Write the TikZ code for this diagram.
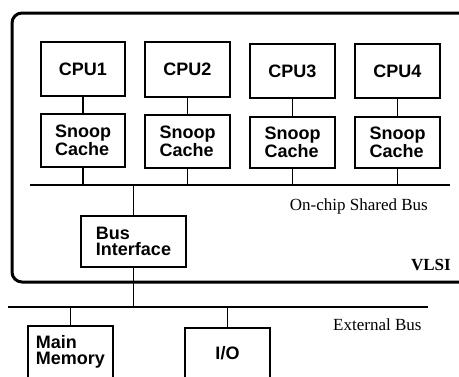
\documentclass[tikz,border=0pt]{standalone}
\usepackage{fontspec}
\setmainfont{Liberation Serif}
\newfontfamily\boxfont{Liberation Sans}
\begin{document}
\begin{tikzpicture}[x=1pt,y=-1pt,
  unitbox/.style={draw=black,line width=1.4pt,inner sep=0pt,
    font=\boxfont\bfseries\fontsize{18}{16.5}\selectfont,align=left},
  wire/.style={line width=1.4pt},
  bus/.style={line width=1.5pt},
  lbl/.style={font=\fontsize{17}{17}\selectfont,inner sep=0pt}]
\useasboundingbox (0,0) rectangle (459,376);
\clip (0,0) rectangle (459,376);
\fill[white] (0,0) rectangle (459,376);
% VLSI chip outline
\draw[line width=3pt,rounded corners=10pt] (12,13) rectangle (475,282);
% CPUs
\node[unitbox,minimum width=84pt,minimum height=54pt] (cpu1) at (83,69) {CPU1};
\node[unitbox,minimum width=85pt,minimum height=55pt] (cpu2) at (187.5,69.5) {CPU2};
\node[unitbox,minimum width=85pt,minimum height=54pt] (cpu3) at (292.5,71) {CPU3};
\node[unitbox,minimum width=85pt,minimum height=54pt] (cpu4) at (397.5,71) {CPU4};
% Snoop caches
\node[unitbox,minimum width=84pt,minimum height=53pt] (sc1) at (83,140.5) {Snoop\\Cache};
\node[unitbox,minimum width=85pt,minimum height=53pt] (sc2) at (187.5,141.5) {Snoop\\Cache};
\node[unitbox,minimum width=85pt,minimum height=51pt] (sc3) at (292.5,142.5) {Snoop\\Cache};
\node[unitbox,minimum width=85pt,minimum height=51pt] (sc4) at (397.5,142.5) {Snoop\\Cache};
% Bus interface
\node[unitbox,minimum width=105pt,minimum height=51pt] (bif) at (133.5,241.5) {Bus\\Interface};
% External units
\node[unitbox,minimum width=85pt,minimum height=52pt] (mem) at (70.5,352) {Main\\Memory};
\node[unitbox,minimum width=85pt,minimum height=50pt] (io) at (227.5,353) {I/O};
% buses
\coordinate (sbL) at (30,185);
\coordinate (sbR) at (450,185);
\coordinate (ebL) at (8,307);
\coordinate (ebR) at (428,307);
\draw[bus] (sbL) -- (sbR);
\draw[bus] (ebL) -- (ebR);
% connectors
\foreach \i in {1,2,3,4}{
  \draw[wire] (cpu\i.south) -- (sc\i.north);
  \draw[wire] (sc\i.south) -- (sc\i.south |- sbL);
}
\draw[wire] (bif.north) -- (bif.north |- sbL);
\draw[wire] (bif.south) -- (bif.south |- ebL);
\draw[wire] (mem.north) -- (mem.north |- ebL);
\draw[wire] (io.north) -- (io.north |- ebL);
% labels
\node[lbl,anchor=base east] (sblabel) at (428,210) {On-chip Shared Bus};
\node[lbl,anchor=base east,font=\bfseries\fontsize{17}{17}\selectfont] (vlsi) at (451,270) {VLSI};
\node[lbl,anchor=base west] (eblabel) at (333,330) {External Bus};
\end{tikzpicture}
\end{document}
